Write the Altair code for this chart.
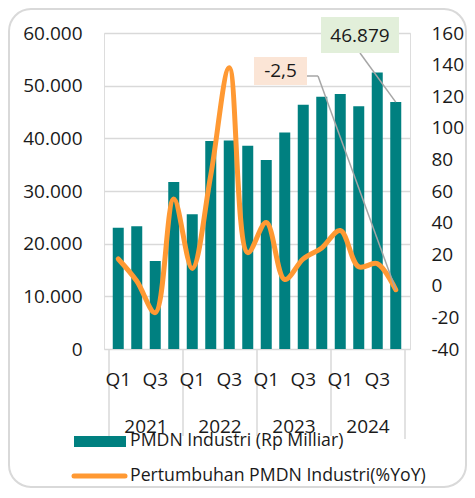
import altair as alt
import pandas as pd

# ---- data ----
quarters = ["Q1", "Q2", "Q3", "Q4"] * 4
years = ["2021", "2022", "2023", "2024"]
pmdn = [23000, 23300, 16700, 31700, 25600, 39500, 39600, 38600,
        35900, 41100, 46400, 47900, 48400, 46100, 52500, 46879]
growth = [17, 3, -17, 55, 11, 70, 138, 21,
          40, 4, 17, 24, 35, 12, 14, -2.5]
ann_labels = ["46.879", "-2,5"]

TEAL = "#008080"
ORANGE = "#FF9933"
TXT = "#1a1a1a"
GRID = "#d9d9d9"
LEAD = "#a6a6a6"
FONT = "Open Sans"
FS = 19
LFS = 17.7

W, H = 306, 316

df = pd.DataFrame({"i": list(range(16)), "q": quarters, "pmdn": pmdn, "growth": growth})
last = df.iloc[[15]]
ydf = pd.DataFrame({"pos": [1.5, 5.5, 9.5, 13.5], "year": years})
sep = pd.DataFrame({"b": [-0.5, 3.5, 7.5, 11.5, 15.5]})

xs = alt.Scale(domain=[-0.5, 15.5], nice=False, zero=False)
x = alt.X("i:Q", scale=xs, axis=None)
yl_scale = alt.Scale(domain=[0, 60000], nice=False, zero=False)
yr_scale = alt.Scale(domain=[-40, 160], nice=False, zero=False)

left_axis = alt.Axis(orient="left", values=list(range(0, 60001, 10000)),
                     labelExpr="replace(format(datum.value, ','), ',', '.')",
                     domain=False, ticks=False, labelPadding=22,
                     labelFont=FONT, labelFontSize=FS, labelColor=TXT,
                     gridColor=GRID, gridWidth=1.5, title=None)
right_axis = alt.Axis(orient="right", values=list(range(-40, 161, 20)),
                      labelExpr="'' + datum.value", grid=False,
                      domain=False, ticks=False, labelPadding=21,
                      labelFont=FONT, labelFontSize=FS, labelColor=TXT, title=None)

bars = alt.Chart(df).mark_bar(width=11, color=TEAL).encode(
    x=x,
    y=alt.Y("pmdn:Q", scale=yl_scale, axis=left_axis),
)
green_leader = alt.Chart(last).mark_rule(color=LEAD, strokeWidth=1.5).encode(
    x=x, y=alt.Y("pmdn:Q", scale=yl_scale, axis=left_axis),
    x2=alt.value(256), y2=alt.value(20),
)
left_layer = alt.layer(bars, green_leader)

line = alt.Chart(df).mark_line(color=ORANGE, strokeWidth=5, interpolate="catmull-rom",
                               strokeCap="round", strokeJoin="round").encode(
    x=x,
    y=alt.Y("growth:Q", scale=yr_scale, axis=right_axis),
)
orange_leader = alt.Chart(last).mark_rule(color=LEAD, strokeWidth=1.5).encode(
    x=x, y=alt.Y("growth:Q", scale=yr_scale, axis=right_axis),
    x2=alt.value(214), y2=alt.value(43),
)
right_layer = alt.layer(line, orange_leader)

# annotation boxes
green_box = alt.Chart(last).mark_rect(color="#E2EFDA").encode(
    x=alt.value(217), x2=alt.value(295), y=alt.value(-16), y2=alt.value(20))
green_txt = alt.Chart(last).mark_text(text=ann_labels[0], font=FONT, fontSize=FS,
                                      color=TXT, baseline="middle", align="center").encode(
    x=alt.value(256), y=alt.value(3))
orange_box = alt.Chart(last).mark_rect(color="#FBE5D6").encode(
    x=alt.value(150), x2=alt.value(203), y=alt.value(24), y2=alt.value(52))
orange_txt = alt.Chart(last).mark_text(text=ann_labels[1], font=FONT, fontSize=FS,
                                       color=TXT, baseline="middle", align="center").encode(
    x=alt.value(176.5), y=alt.value(38))
orange_hseg = alt.Chart(last).mark_rule(color=LEAD, strokeWidth=1.5).encode(
    x=alt.value(203), x2=alt.value(214), y=alt.value(43))

# x axis: quarters, years, separators
qtext = alt.Chart(df).transform_filter("datum.i % 2 == 0").mark_text(
    font=FONT, fontSize=FS, color=TXT, baseline="middle", align="center").encode(
    x=x, y=alt.value(347), text="q:N")
ytext = alt.Chart(ydf).mark_text(
    font=FONT, fontSize=FS, color=TXT, baseline="middle", align="center").encode(
    x=alt.X("pos:Q", scale=xs, axis=None), y=alt.value(394), text="year:N")
seps = alt.Chart(sep).mark_rule(color=GRID, strokeWidth=1.5).encode(
    x=alt.X("b:Q", scale=xs, axis=None), y=alt.value(H), y2=alt.value(406))

# legend
leg_bg = alt.Chart(last).mark_rect(color="white").encode(
    x=alt.value(-34), x2=alt.value(250), y=alt.value(403), y2=alt.value(452))
leg_rect = alt.Chart(last).mark_rect(color=TEAL).encode(
    x=alt.value(-30), x2=alt.value(22), y=alt.value(403), y2=alt.value(414))
leg_t1 = alt.Chart(last).mark_text(text="PMDN Industri (Rp Milliar)", font=FONT, fontSize=LFS,
                                   color=TXT, baseline="middle", align="left").encode(
    x=alt.value(26), y=alt.value(408))
leg_line = alt.Chart(last).mark_rule(color=ORANGE, strokeWidth=5, strokeCap="round").encode(
    x=alt.value(-30), x2=alt.value(21), y=alt.value(443))
leg_t2 = alt.Chart(last).mark_text(text="Pertumbuhan PMDN Industri(%YoY)", font=FONT, fontSize=LFS,
                                   color=TXT, baseline="middle", align="left").encode(
    x=alt.value(26), y=alt.value(443))

frame = alt.Chart(last).mark_rect(filled=False, stroke=GRID, strokeWidth=2, cornerRadius=22).encode(
    x=alt.value(-95), x2=alt.value(362), y=alt.value(-24), y2=alt.value(454))

chart = alt.layer(
    left_layer, right_layer,
    seps, qtext, ytext,
    green_box, green_txt, orange_box, orange_txt, orange_hseg,
    leg_bg, leg_rect, leg_t1, leg_line, leg_t2, frame,
).resolve_scale(y="independent").properties(
    width=W, height=H,
    padding={"left": 96, "top": 25, "right": 57, "bottom": 141},
    autosize=alt.AutoSizeParams(type="none"),
).configure_view(stroke=None).configure(background="white")

chart.save("out.html", embed_options={"renderer": "svg", "actions": False})
